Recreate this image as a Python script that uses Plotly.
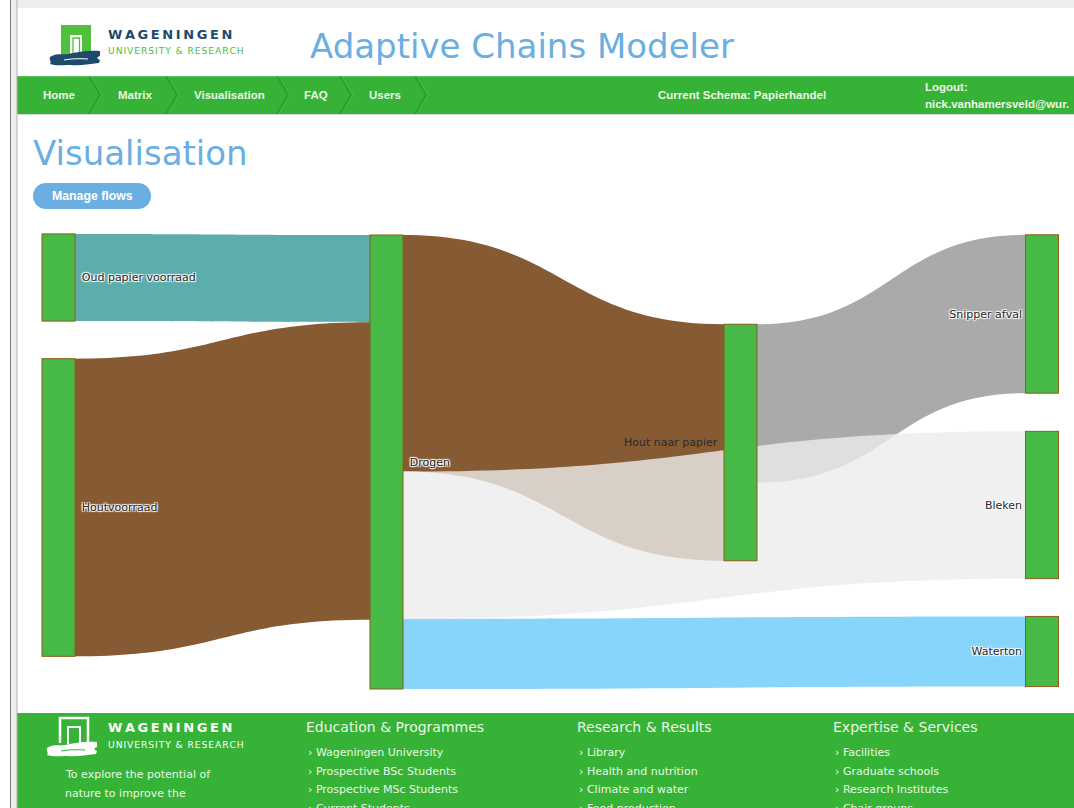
import plotly.graph_objects as go

W, H = 1074, 808

# ---------------- data ----------------
node_labels = ["Oud papier voorraad", "Houtvoorraad", "Drogen", "Hout naar papier",
               "Snipper afval", "Bleken", "Waterton"]
link_source = [0, 1, 2, 2, 3, 2]
link_target = [2, 2, 3, 6, 4, 5]
link_values = [87, 297, 236, 70, 158, 147]
link_colors = ["#5dadad", "#865b33", "#865b33", "#87d5fb", "#aaaaaa", "rgba(236,236,236,0.8)"]

nav_items = ["Home", "Matrix", "Visualisation", "FAQ", "Users"]
footer_cols = {
    "Education & Programmes": ["Wageningen University", "Prospective BSc Students",
                               "Prospective MSc Students", "Current Students"],
    "Research & Results": ["Library", "Health and nutrition", "Climate and water", "Food production"],
    "Expertise & Services": ["Facilities", "Graduate schools", "Research Institutes", "Chair groups"],
}

# ---------------- layout helpers ----------------
def X(x):
    return x / W

def Y(y):
    return 1 - y / H

shapes = []
annotations = []

def rect(x0, y0, x1, y1, fill=None, line_color=None, line_width=0, layer="below"):
    shapes.append(dict(type="rect", xref="paper", yref="paper",
                       x0=X(x0), x1=X(x1), y0=Y(y1), y1=Y(y0),
                       fillcolor=fill if fill else "rgba(0,0,0,0)",
                       line=dict(color=line_color or "rgba(0,0,0,0)", width=line_width),
                       layer=layer))

def path(cmds, fill=None, line_color=None, line_width=0, layer="above"):
    parts = []
    for c in cmds:
        if c[0] == "Z":
            parts.append("Z")
            continue
        op, pts = c[0], c[1:]
        if op in ("M", "L"):
            for k, (a, b) in enumerate(pts):
                o = op if k == 0 else "L"
                parts.append(f"{o}{X(a):.5f},{Y(b):.5f}")
        else:
            parts.append(op + " ".join(f"{X(a):.5f},{Y(b):.5f}" for a, b in pts))
    shapes.append(dict(type="path", xref="paper", yref="paper", path=" ".join(parts),
                       fillcolor=fill if fill else "rgba(0,0,0,0)",
                       line=dict(color=line_color or "rgba(0,0,0,0)", width=line_width),
                       layer=layer))

def text(t, x, y, size, color, family="DejaVu Sans", xanchor="left", yanchor="middle"):
    annotations.append(dict(text=t, x=X(x), y=Y(y), xref="paper", yref="paper",
                            showarrow=False, xanchor=xanchor, yanchor=yanchor,
                            font=dict(size=size, color=color, family=family),
                            borderpad=0))

GREEN = "#36b336"
LIGHT_BLUE = "#6aaee2"
NAVY = "#1e4a6d"
FOOT_TXT = "#eaf6e6"

# page frame
rect(10, 0, 1074, 8, fill="#eeeeee")
rect(10, 0, 17, 808, fill="#eeeeee")
shapes.append(dict(type="line", xref="paper", yref="paper", x0=X(10.5), x1=X(10.5), y0=0, y1=1,
                   line=dict(color="#7a7a7a", width=1)))
shapes.append(dict(type="line", xref="paper", yref="paper", x0=X(17), x1=X(17), y0=0, y1=1,
                   line=dict(color="#b0b0b0", width=1)))

# logo
def wur_logo(ox, oy, green_fill, door_fill, wave_fill, outline=False):
    if outline:
        path([("M", (ox + 2, oy + 27), (ox + 2, oy + 2), (ox + 30, oy + 2), (ox + 30, oy + 27))],
             line_color=door_fill, line_width=2.5)
        path([("M", (ox + 10, oy + 28), (ox + 10, oy + 11), (ox + 22, oy + 11), (ox + 22, oy + 28))],
             line_color=door_fill, line_width=2)
    else:
        path([("M", (ox, oy), (ox + 30, oy), (ox + 30, oy + 30), (ox, oy + 30)), ("Z",)],
             fill=green_fill)
        path([("M", (ox + 9, oy + 10), (ox + 21, oy + 10), (ox + 21, oy + 30), (ox + 9, oy + 30)), ("Z",)],
             fill=door_fill)
        path([("M", (ox + 12, oy + 31), (ox + 12, oy + 13), (ox + 18.5, oy + 13), (ox + 18.5, oy + 31))],
             line_color=green_fill, line_width=1.3)
    wx, wy = ox - 11, oy + 24
    path([("M", (wx, wy + 8)),
          ("C", (wx + 6, wy + 4), (wx + 12, wy + 6), (wx + 18, wy + 5)),
          ("C", (wx + 28, wy + 3), (wx + 38, wy + 1), (wx + 50, wy + 2)),
          ("L", (wx + 50, wy + 7)),
          ("C", (wx + 46, wy + 8), (wx + 47, wy + 10), (wx + 50, wy + 11)),
          ("L", (wx + 49, wy + 14)),
          ("C", (wx + 38, wy + 15), (wx + 30, wy + 17), (wx + 20, wy + 16)),
          ("C", (wx + 12, wy + 16), (wx + 6, wy + 17), (wx, wy + 15)),
          ("C", (wx + 2, wy + 13), (wx - 1, wy + 11), (wx, wy + 8)), ("Z",)],
         fill=wave_fill)
    path([("M", (wx + 14, wy + 11)), ("C", (wx + 22, wy + 9.5), (wx + 30, wy + 9.5), (wx + 38, wy + 10))],
         line_color=("#ffffff" if not outline else GREEN), line_width=1)

wur_logo(61, 25, "#4fc13a", "#ffffff", NAVY)
TS = "\u2009"
text("<b>" + TS.join("WAGENINGEN") + "</b>", 107, 34, 13, NAVY)
text("\u200a".join("UNIVERSITY & RESEARCH"), 107, 50.5, 9.2, "#4cbb44")
text("Adaptive Chains Modeler", 309, 46, 34, LIGHT_BLUE)

# nav bar
rect(17, 76, 1074, 114, fill=GREEN)
shapes.append(dict(type="line", xref="paper", yref="paper", x0=X(17), x1=1, y0=Y(76.5), y1=Y(76.5),
                   line=dict(color="#5cc35c", width=1)))
shapes.append(dict(type="line", xref="paper", yref="paper", x0=X(17), x1=1, y0=Y(114.5), y1=Y(114.5),
                   line=dict(color="#d6d6d6", width=1)))
nav_x = [42, 117, 193, 303, 368]
chev_x = [89, 166, 277, 340, 415]
for lbl, nx in zip(nav_items, nav_x):
    text(f"<b>{lbl}</b>", nx, 95, 11.5, FOOT_TXT, family="Liberation Sans")
for cx in chev_x:
    path([("M", (cx, 76), (cx + 11, 95), (cx, 114))], line_color="rgba(0,70,0,0.18)", line_width=2)
    path([("M", (cx + 2, 76), (cx + 13, 95), (cx + 2, 114))], line_color="rgba(255,255,255,0.10)",
         line_width=1)
text("<b>Current Schema: Papierhandel</b>", 657, 95, 11.5, FOOT_TXT, family="Liberation Sans")
text("<b>Logout:</b>", 924, 87, 11.5, FOOT_TXT, family="Liberation Sans")
text("<b>nick.vanhamersveld@wur.</b>", 924, 104, 11.5, FOOT_TXT, family="Liberation Sans")

# page heading + button
text("Visualisation", 32, 153, 34, LIGHT_BLUE)
path([("M", (46, 183)), ("L", (138, 183)),
      ("C", (145.2, 183), (151, 188.8), (151, 196)),
      ("C", (151, 203.2), (145.2, 209), (138, 209)),
      ("L", (46, 209)),
      ("C", (38.8, 209), (33, 203.2), (33, 196)),
      ("C", (33, 188.8), (38.8, 183), (46, 183)), ("Z",)], fill=LIGHT_BLUE)
text("<b>Manage flows</b>", 92, 196, 12.3, "#ffffff", family="Liberation Sans", xanchor="center")

# footer
rect(17, 713, 1074, 808, fill=GREEN)
wur_logo(58, 716, GREEN, "#ffffff", "#ffffff", outline=True)
text("<b>" + TS.join("WAGENINGEN") + "</b>", 107, 727.5, 13, "#ffffff")
text("\u200a".join("UNIVERSITY & RESEARCH"), 107, 744, 9.2, "#ffffff")
for i, line in enumerate(["To explore the potential of", "nature to improve the", "quality of life"]):
    text(line, 64, 774.5 + 19 * i, 11, FOOT_TXT)
col_x = [305, 576, 832]
for cx, (head, items) in zip(col_x, footer_cols.items()):
    text(head, cx, 727, 14, FOOT_TXT)
    for j, it in enumerate(items):
        text("\u203a " + it, cx + 2, 752.3 + 18.8 * j, 11, FOOT_TXT)

# ---------------- sankey ----------------
sx0, sx1, sy0, sy1 = 42, 1058, 235, 689
sw, sh = sx1 - sx0, sy1 - sy0
node_cx = [58.5, 58.5, 386.5, 740.5, 1042, 1042, 1042]
node_cy = [277.5, 507.5, 462, 442.5, 314, 505, 651.5]
THICK = 33

# the middle-right node carries its label on its left side (as in the reference)
left_label_nodes = [3]
right_side_nodes = [0, 1, 2]
shown_labels = []
for i, l in enumerate(node_labels):
    if i in left_label_nodes:
        shown_labels.append("")
    elif i in right_side_nodes:
        shown_labels.append("\u2009\u200a" + l)
    else:
        shown_labels.append(l)
for i in left_label_nodes:
    text(node_labels[i], node_cx[i] - THICK / 2 - 5, node_cy[i], 11, "#2a2a2a", xanchor="right")

fig = go.Figure(go.Sankey(
    arrangement="fixed",
    domain=dict(x=[X(sx0), X(sx1)], y=[Y(sy1), Y(sy0)]),
    node=dict(label=shown_labels,
              x=[(v - sx0) / sw for v in node_cx],
              y=[(v - sy0) / sh for v in node_cy],
              thickness=THICK, pad=20,
              color="#47b947",
              line=dict(color="#8b5e1a", width=1)),
    link=dict(source=link_source, target=link_target, value=link_values, color=link_colors),
    textfont=dict(family="DejaVu Sans", size=11, color="#2a2a2a"),
    hoverinfo="none",
))

fig.update_layout(width=W, height=H, margin=dict(l=0, r=0, t=0, b=0),
                  paper_bgcolor="#ffffff", plot_bgcolor="#ffffff",
                  shapes=shapes, annotations=annotations, showlegend=False)

fig.write_html("out.html", config={"displayModeBar": False},
               post_script="document.body.style.margin='0';document.body.style.overflow='hidden';")
